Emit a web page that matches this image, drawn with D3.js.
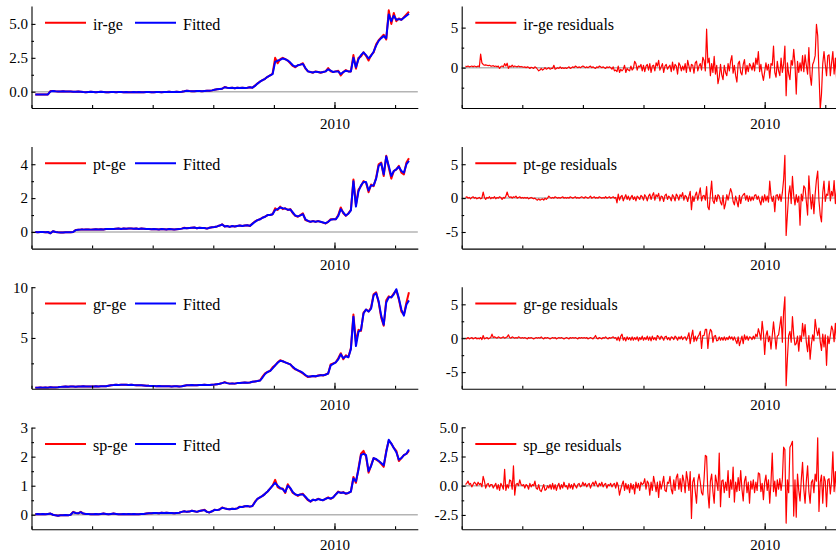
<!DOCTYPE html>
<html>
<head>
<meta charset="utf-8">
<script src="https://cdn.jsdelivr.net/npm/d3@7"></script>
<style>
  body { margin: 0; background: #fff; }
  svg { display: block; }
</style>
</head>
<body>
<svg id="chart" width="836" height="554"></svg>
<script>
// levels are monthly from Feb 2000, residuals every half month from 2000.125
const levelStart = 2000 + 1.5 / 12, levelStep = 1 / 12
const residStart = 2000.125, residStep = 1 / 24
const xDomain = [2000, 2012.75]
const xTicks = [2000, 2002, 2004, 2006, 2008, 2010, 2012]
const xLabels = [2010]

//======== levels ========//
const irGe = [
  -0.2,-0.2,-0.2,-0.2,-0.2,-0.2,0.05,0.05,0.03,0.02,0.02,
  0.03,0.02,0.02,0.01,0.0,0.0,0.01,0.0,-0.02,-0.03,-0.02,-0.01,
  -0.02,-0.03,-0.02,-0.01,-0.02,-0.03,-0.03,-0.02,-0.02,-0.03,-0.02,-0.02,
  -0.03,-0.02,-0.03,-0.03,-0.02,-0.03,-0.02,-0.03,-0.03,-0.02,-0.02,-0.03,
  -0.03,-0.02,-0.02,-0.03,-0.02,-0.02,-0.01,-0.02,-0.02,-0.01,-0.02,0.0,
  0.03,0.08,0.05,0.04,0.03,0.05,0.06,0.04,0.06,0.08,0.07,0.1,
  0.15,0.18,0.2,0.22,0.35,0.3,0.28,0.3,0.26,0.3,0.28,0.3,
  0.28,0.3,0.33,0.3,0.45,0.6,0.75,0.85,0.95,1.1,1.2,1.35,
  2.5,2.1,2.4,2.5,2.4,2.3,2.1,1.9,1.8,1.95,2.0,2.1,
  1.7,1.5,1.45,1.4,1.5,1.45,1.4,1.45,1.5,1.75,1.5,1.45,
  1.5,1.55,1.2,1.45,1.6,1.5,1.5,2.7,1.7,2.5,2.6,2.9,
  2.65,2.3,2.7,2.9,3.5,3.8,4.0,4.2,3.85,6.0,5.0,5.8,
  5.2,5.4,5.3,5.5,5.7,5.9
]
const irGeFit = [
  -0.2,-0.2,-0.2,-0.2,-0.2,-0.2,0.02,0.05,0.03,0.02,0.02,
  0.03,0.02,0.02,0.01,0.0,0.0,0.01,0.0,-0.02,-0.03,-0.02,-0.01,
  -0.02,-0.03,-0.02,-0.01,-0.02,-0.03,-0.03,-0.02,-0.02,-0.03,-0.02,-0.02,
  -0.03,-0.02,-0.03,-0.03,-0.02,-0.03,-0.02,-0.03,-0.03,-0.02,-0.02,-0.03,
  -0.03,-0.02,-0.02,-0.03,-0.02,-0.02,-0.01,-0.02,-0.02,-0.01,-0.02,0.0,
  0.03,0.07,0.05,0.04,0.03,0.05,0.06,0.04,0.06,0.08,0.07,0.1,
  0.14,0.18,0.2,0.22,0.33,0.3,0.28,0.3,0.26,0.3,0.28,0.3,
  0.28,0.3,0.33,0.3,0.43,0.6,0.74,0.85,0.95,1.1,1.2,1.3,
  2.2,2.3,2.35,2.45,2.4,2.3,2.15,1.95,1.85,1.95,2.0,2.05,
  1.75,1.5,1.45,1.42,1.48,1.45,1.42,1.45,1.5,1.65,1.55,1.45,
  1.5,1.5,1.3,1.45,1.55,1.5,1.5,2.5,1.8,2.4,2.7,2.9,
  2.7,2.45,2.65,2.95,3.4,3.75,3.95,4.1,3.95,5.7,5.2,5.6,
  5.3,5.35,5.3,5.45,5.6,5.75
]
const ptGe = [
  0.0,-0.02,0.0,0.0,-0.01,0.0,-0.08,0.05,0.0,-0.02,-0.03,
  -0.03,-0.02,-0.01,-0.02,0.0,0.12,0.13,0.14,0.14,0.15,0.15,0.14,
  0.15,0.16,0.15,0.16,0.15,0.17,0.18,0.17,0.18,0.19,0.2,0.18,
  0.2,0.19,0.21,0.2,0.19,0.2,0.18,0.2,0.19,0.18,0.17,0.16,
  0.17,0.16,0.15,0.17,0.16,0.15,0.17,0.16,0.15,0.16,0.17,0.2,
  0.25,0.22,0.24,0.25,0.26,0.22,0.25,0.23,0.24,0.2,0.25,0.28,
  0.3,0.33,0.38,0.45,0.32,0.35,0.3,0.35,0.33,0.36,0.38,0.35,
  0.38,0.4,0.35,0.5,0.62,0.7,0.75,0.85,0.9,1.0,1.0,1.05,
  1.4,1.3,1.5,1.35,1.4,1.3,1.35,1.1,0.95,0.9,1.0,1.1,
  0.7,0.65,0.6,0.65,0.6,0.65,0.6,0.55,0.5,0.6,0.75,0.75,
  0.75,1.0,1.45,1.1,0.95,1.1,1.3,3.1,1.6,2.5,2.7,3.0,
  2.9,2.35,2.8,2.7,3.2,4.0,4.1,3.3,4.5,3.8,3.15,3.6,
  3.7,3.9,3.5,3.4,4.1,4.35
]
const ptGeFit = [
  0.0,-0.02,0.0,0.0,-0.01,0.0,-0.08,0.05,0.0,-0.02,-0.03,
  -0.03,-0.02,-0.01,-0.02,0.0,0.11,0.13,0.14,0.14,0.15,0.15,0.14,
  0.15,0.16,0.15,0.16,0.15,0.17,0.18,0.17,0.18,0.19,0.2,0.18,
  0.2,0.19,0.21,0.2,0.19,0.2,0.18,0.2,0.19,0.18,0.17,0.16,
  0.17,0.16,0.15,0.17,0.16,0.15,0.17,0.16,0.15,0.16,0.17,0.2,
  0.24,0.22,0.24,0.25,0.26,0.22,0.25,0.23,0.24,0.2,0.25,0.28,
  0.3,0.33,0.38,0.44,0.33,0.35,0.3,0.35,0.33,0.36,0.38,0.35,
  0.38,0.4,0.36,0.48,0.6,0.7,0.75,0.84,0.9,1.0,1.0,1.05,
  1.3,1.35,1.45,1.4,1.38,1.32,1.33,1.15,0.97,0.92,0.98,1.05,
  0.75,0.66,0.6,0.64,0.6,0.64,0.6,0.56,0.52,0.6,0.72,0.75,
  0.75,0.95,1.35,1.15,0.97,1.08,1.28,3.0,1.5,2.4,2.75,2.95,
  2.95,2.45,2.75,2.75,3.15,3.9,4.05,3.4,4.45,3.9,3.3,3.6,
  3.7,3.85,3.6,3.5,4.0,4.2
]
const grGe = [
  0.1,0.1,0.12,0.1,0.12,0.1,0.15,0.12,0.13,0.15,0.18,
  0.2,0.22,0.2,0.21,0.22,0.2,0.22,0.21,0.23,0.22,0.21,0.22,
  0.22,0.23,0.22,0.24,0.23,0.25,0.3,0.35,0.36,0.38,0.37,0.39,
  0.38,0.39,0.37,0.38,0.36,0.35,0.34,0.33,0.32,0.3,0.28,0.27,
  0.26,0.25,0.26,0.24,0.25,0.23,0.24,0.22,0.23,0.24,0.22,0.25,
  0.3,0.35,0.33,0.36,0.35,0.34,0.37,0.36,0.38,0.37,0.36,0.4,
  0.42,0.45,0.48,0.55,0.65,0.55,0.5,0.52,0.5,0.55,0.56,0.58,
  0.6,0.58,0.62,0.68,0.72,0.75,0.8,1.2,1.5,1.65,1.75,2.1,
  2.3,2.6,2.8,2.7,2.6,2.5,2.4,2.1,1.9,1.8,1.65,1.5,
  1.3,1.15,1.2,1.25,1.2,1.3,1.35,1.3,1.4,1.5,2.4,2.5,
  2.6,3.0,3.5,2.9,3.3,3.1,4.0,7.3,4.6,5.8,5.7,7.5,
  7.8,7.6,8.0,9.3,9.5,8.5,7.0,6.2,8.7,9.1,9.0,9.4,
  9.7,8.8,7.6,7.3,8.5,9.5
]
const grGeFit = [
  0.1,0.1,0.12,0.1,0.12,0.1,0.15,0.12,0.13,0.15,0.18,
  0.2,0.22,0.2,0.21,0.22,0.2,0.22,0.21,0.23,0.22,0.21,0.22,
  0.22,0.23,0.22,0.24,0.23,0.25,0.3,0.35,0.36,0.38,0.37,0.39,
  0.38,0.39,0.37,0.38,0.36,0.35,0.34,0.33,0.32,0.3,0.28,0.27,
  0.26,0.25,0.26,0.24,0.25,0.23,0.24,0.22,0.23,0.24,0.22,0.25,
  0.3,0.35,0.33,0.36,0.35,0.34,0.37,0.36,0.38,0.37,0.36,0.4,
  0.42,0.45,0.48,0.55,0.62,0.55,0.5,0.52,0.5,0.55,0.56,0.58,
  0.6,0.58,0.62,0.68,0.72,0.75,0.8,1.1,1.45,1.65,1.75,2.0,
  2.3,2.55,2.75,2.7,2.6,2.5,2.4,2.15,1.95,1.8,1.7,1.55,
  1.35,1.2,1.2,1.25,1.22,1.28,1.33,1.32,1.38,1.5,2.3,2.45,
  2.6,2.9,3.4,3.0,3.2,3.1,3.9,7.1,4.2,5.6,5.8,7.4,
  7.8,7.6,7.9,9.2,9.4,8.6,7.2,6.3,8.5,9.0,9.0,9.3,
  9.8,8.9,7.8,7.2,8.3,8.7
]
const spGe = [
  0.02,0.03,0.02,0.03,0.02,0.03,0.04,0.0,-0.02,-0.03,-0.02,
  -0.02,-0.01,-0.02,0.0,0.1,0.06,0.05,0.1,0.04,0.03,0.03,0.02,
  0.02,0.03,0.02,0.03,0.04,0.03,0.02,0.03,0.04,0.03,0.02,0.02,
  0.03,0.02,0.03,0.02,0.03,0.02,0.02,0.03,0.03,0.04,0.05,0.05,
  0.06,0.06,0.05,0.07,0.06,0.07,0.06,0.06,0.05,0.06,0.07,0.1,
  0.12,0.1,0.11,0.14,0.12,0.1,0.13,0.15,0.17,0.1,0.08,0.12,
  0.17,0.16,0.18,0.25,0.22,0.2,0.19,0.21,0.2,0.22,0.28,0.27,
  0.29,0.3,0.28,0.3,0.45,0.55,0.6,0.65,0.72,0.8,0.9,1.0,
  1.2,0.95,0.9,0.9,0.75,1.05,0.9,0.75,0.7,0.65,0.7,0.72,
  0.6,0.5,0.45,0.52,0.5,0.55,0.52,0.5,0.55,0.6,0.55,0.6,
  0.7,0.8,0.75,0.78,0.72,0.75,0.8,1.3,1.1,1.6,2.1,2.2,
  2.0,1.45,1.7,1.95,1.9,1.85,1.75,1.65,2.2,2.55,2.45,2.3,
  2.2,1.85,1.95,2.05,2.1,2.2
]
const spGeFit = [
  0.02,0.03,0.02,0.03,0.02,0.03,0.04,0.0,-0.02,-0.03,-0.02,
  -0.02,-0.01,-0.02,0.0,0.09,0.06,0.05,0.09,0.04,0.03,0.03,0.02,
  0.02,0.03,0.02,0.03,0.04,0.03,0.02,0.03,0.04,0.03,0.02,0.02,
  0.03,0.02,0.03,0.02,0.03,0.02,0.02,0.03,0.03,0.04,0.05,0.05,
  0.06,0.06,0.05,0.07,0.06,0.07,0.06,0.06,0.05,0.06,0.07,0.1,
  0.12,0.1,0.11,0.14,0.12,0.1,0.13,0.15,0.16,0.1,0.08,0.12,
  0.17,0.16,0.18,0.24,0.22,0.2,0.19,0.21,0.2,0.22,0.27,0.27,
  0.29,0.3,0.28,0.3,0.43,0.55,0.6,0.65,0.72,0.8,0.9,1.0,
  1.1,1.0,0.92,0.88,0.78,1.0,0.92,0.78,0.7,0.67,0.7,0.7,
  0.62,0.52,0.46,0.52,0.5,0.54,0.52,0.5,0.55,0.58,0.56,0.6,
  0.7,0.78,0.76,0.77,0.73,0.75,0.8,1.25,1.15,1.55,2.05,2.1,
  2.05,1.5,1.68,1.95,1.92,1.85,1.78,1.7,2.15,2.58,2.45,2.3,
  2.15,1.9,1.95,2.05,2.1,2.25
]

//======== residuals ========//
const irGeRes = [
  0.2,0.1,0.2,0.1,0.15,0.2,0.1,0.2,0.15,0.1,0.2,0.1,1.7,0.6,0.4,0.3,0.35,0.3,0.25,0.3,0.2,
  0.2,0.25,0.15,0.2,0.1,0.2,-0.1,0.15,0.2,0.1,0.5,0.2,0.55,-0.1,0.2,0.1,0.3,0.1,0.2,0.15,0.1,0.2,0.1,0.15,
  0.1,0.05,0.1,0.0,0.1,0.05,-0.1,0.05,0.0,-0.1,0.1,0.0,-0.2,-0.4,-0.3,-0.1,-0.3,-0.2,0.0,-0.2,-0.1,0.0,-0.2,-0.1,
  -0.1,0.3,-0.2,-0.1,0.0,-0.1,0.1,-0.1,0.0,-0.1,0.0,-0.1,0.0,0.1,-0.1,0.0,0.1,0.0,0.2,0.1,0.0,0.1,0.0,0.1,
  0.2,0.1,0.0,0.1,0.0,0.1,0.2,0.0,0.1,0.0,-0.1,0.1,0.0,0.2,0.1,0.0,0.1,0.0,-0.1,0.1,0.0,0.1,0.0,-0.2,
  0.1,-0.4,-0.3,-0.5,0.2,-0.6,-0.2,-0.4,-0.2,0.3,-0.6,-0.1,-0.3,-0.4,0.2,-0.3,-0.1,0.8,0.5,-0.3,0.2,0.1,0.4,-0.4,
  0.3,-0.5,0.2,0.4,-0.3,0.5,-0.6,0.2,0.3,-0.4,0.6,0.2,0.9,-0.3,0.1,0.5,-0.6,0.2,0.4,-0.2,0.1,0.3,-0.5,0.7,
  -0.3,0.4,0.2,-0.8,0.6,0.3,-0.4,0.2,-0.3,0.5,-0.6,0.9,0.2,-0.5,0.4,0.3,-0.7,0.6,0.8,-0.4,0.2,0.5,-0.3,1.3,
  0.9,-0.4,4.8,0.6,1.2,-1.0,0.5,-0.6,1.4,-0.8,0.3,-2.0,-1.2,0.4,-0.9,-1.5,0.3,-0.6,-1.0,0.5,-0.4,0.8,1.5,-0.7,
  0.3,-1.0,-1.8,0.5,0.8,-0.6,-0.9,0.4,1.0,-0.8,0.3,-0.5,0.5,0.2,-0.3,0.6,-0.4,1.2,0.4,2.0,-0.5,0.4,-0.8,-1.6,
  -0.5,0.6,-0.3,0.4,-1.3,0.5,0.3,2.7,-0.6,-1.2,0.8,-0.4,-1.0,1.2,-0.6,0.5,2.7,-3.5,0.6,-0.8,-1.5,0.9,0.3,2.3,
  0.5,-3.3,0.8,-0.6,0.6,-0.4,1.5,-0.5,1.6,0.3,-0.8,2.5,-1.0,-2.2,0.4,0.8,1.5,5.4,4.0,-0.6,-5.2,-3.3,0.5,2.0,
  0.4,-1.0,1.5,1.6,-1.0,0.6,2.0,-0.8,1.2,-1.5,0.8
]
const ptGeRes = [
  0.1,0.2,0.0,0.1,-0.1,0.1,0.2,0.0,0.1,-0.1,0.0,0.1,-0.1,0.0,0.9,0.1,-0.2,0.1,0.0,0.2,-0.1,
  0.1,0.0,0.2,-0.1,0.1,0.0,0.2,0.1,-0.2,0.1,0.0,0.3,0.9,0.3,0.1,0.2,0.0,0.2,0.1,0.3,0.0,0.1,0.2,0.0,
  0.1,0.0,0.1,0.0,0.1,-0.1,0.0,0.1,0.0,-0.1,0.0,-0.2,-0.3,-0.1,-0.3,-0.2,-0.1,-0.3,0.0,-0.2,0.0,0.3,0.1,0.0,
  0.1,0.0,0.2,0.1,0.0,0.1,0.0,0.1,0.2,0.0,0.1,0.0,0.1,0.0,0.2,0.1,0.0,0.1,0.2,0.0,0.1,0.0,0.1,0.2,
  0.1,0.0,0.2,0.1,0.0,0.1,0.3,0.0,0.1,0.2,0.0,0.1,0.0,0.2,0.1,0.0,0.1,0.0,0.2,0.0,0.1,0.2,0.0,0.1,
  0.2,0.0,0.1,-0.7,0.6,-0.3,0.2,0.4,-0.4,0.1,0.5,-0.2,0.3,-0.3,0.1,0.4,-0.2,0.2,-0.4,0.3,0.1,-0.2,0.4,0.2,
  -0.3,0.5,0.2,-0.4,0.3,0.6,-0.2,0.4,0.8,-0.3,0.5,0.2,0.7,-0.4,0.3,0.2,-0.5,0.4,0.6,-0.2,0.3,0.1,-0.4,0.5,
  0.2,-0.4,0.6,0.3,-0.3,0.5,0.2,0.8,-0.3,0.4,0.2,-0.5,0.3,1.0,-1.7,0.3,-0.5,0.4,0.9,-0.3,0.6,1.5,-0.4,0.3,
  0.4,-0.3,1.7,-1.3,-1.7,0.6,2.5,-0.4,-0.8,0.4,-0.5,0.5,0.3,-0.6,-1.0,0.4,-1.6,-0.8,0.5,-0.3,0.6,1.4,0.8,-0.5,
  -1.0,0.3,-0.5,-1.3,0.4,-0.8,0.2,0.5,0.7,-0.3,0.4,-0.5,0.3,-0.4,0.2,-0.3,0.4,0.5,-0.2,0.3,-0.4,-1.0,0.3,-0.6,
  0.5,-0.4,0.3,-0.6,2.5,0.4,-0.5,0.3,-2.0,0.4,0.5,-0.3,0.6,-0.5,0.8,2.7,6.3,-5.5,-2.5,0.6,1.8,-0.8,3.2,0.4,
  -1.0,0.5,-0.6,0.3,-4.0,0.6,-0.4,1.8,1.5,-0.5,-2.5,3.3,0.4,-1.6,0.5,-2.3,0.6,2.7,4.0,-0.4,-2.5,-3.5,0.8,2.5,
  -0.5,0.6,0.4,2.5,-0.4,1.0,0.3,2.6,-0.8,1.5,-0.6
]
const grGeRes = [
  0.0,-0.1,0.1,-0.1,0.0,0.1,-0.1,0.0,0.1,-0.1,0.0,-0.1,0.1,-0.2,0.4,-0.1,0.0,0.1,-0.1,0.0,0.1,
  0.6,0.1,0.2,0.1,0.0,0.2,0.1,0.0,0.1,0.2,0.0,0.1,0.2,0.5,0.1,0.0,0.2,0.1,0.0,0.1,0.0,0.2,0.1,0.0,
  0.1,0.0,0.1,0.0,-0.1,0.1,0.0,0.1,0.0,-0.1,0.0,0.1,0.0,0.1,0.0,0.2,0.0,-0.1,0.1,0.0,0.1,0.0,-0.1,0.0,
  0.1,0.0,0.1,-0.1,0.0,0.1,0.0,0.1,0.0,-0.1,0.0,0.1,0.0,-0.1,0.1,0.0,0.1,0.0,0.1,0.0,-0.1,0.1,0.0,0.1,
  0.0,0.1,0.0,0.1,-0.1,0.0,0.1,0.0,-0.1,0.1,0.4,0.0,-0.1,0.1,0.0,-0.1,0.1,0.0,0.2,0.0,-0.1,0.1,0.0,0.1,
  0.2,0.0,0.1,-0.3,0.2,-0.4,0.3,0.6,-0.3,0.1,-0.4,0.2,-0.2,0.1,-0.3,0.2,-0.3,0.1,-0.2,0.2,-0.4,0.1,-0.2,0.3,
  -0.3,0.1,-0.2,0.3,-0.3,0.2,-0.4,0.3,-0.2,0.1,-0.3,0.4,0.2,-0.2,0.3,0.1,-0.3,0.2,0.3,-0.2,0.1,-0.3,0.2,0.1,
  -0.2,0.3,0.1,-0.3,0.2,-0.1,0.3,-0.2,0.1,0.2,-0.3,0.2,0.8,-0.8,0.3,1.2,-0.5,0.3,-0.4,0.2,0.5,1.0,-1.5,0.4,
  0.4,1.3,1.3,-1.5,0.5,1.3,1.0,-0.6,0.3,0.4,-0.4,-0.3,0.2,-0.3,0.1,-0.3,0.2,-0.3,0.1,-0.2,0.3,-0.1,0.2,-0.3,
  0.2,-0.3,-0.8,0.2,-1.1,-0.4,0.3,-0.8,0.5,-0.2,0.3,-0.3,0.2,0.1,-0.2,0.3,-0.1,0.6,0.2,1.4,0.7,-0.3,2.5,0.8,
  -2.4,0.4,1.1,-0.5,0.3,-1.6,0.4,2.4,0.5,-1.6,0.3,0.5,1.8,3.2,-0.6,3.9,6.1,-7.0,-3.0,0.4,1.0,-0.6,3.2,0.5,
  -1.0,-0.8,0.3,-1.9,0.4,-0.5,2.2,0.3,2.0,-0.6,-2.0,0.4,-3.1,-0.9,0.5,-0.4,2.8,1.3,0.4,1.5,-0.5,-1.8,0.6,-1.3,
  0.5,-4.0,0.3,-0.8,0.4,1.8,1.2,-0.5,2.2,-0.6,0.8
]
const spGeRes = [
  0.1,0.2,0.4,0.1,0.2,-0.1,0.1,0.3,0.2,0.0,0.3,0.1,0.2,-0.1,0.8,0.4,-0.2,0.1,0.2,-0.1,0.1,
  0.1,-0.2,0.0,0.2,-0.3,0.1,-0.4,0.2,0.0,-0.3,1.4,-0.4,0.1,-0.2,0.5,0.4,-0.3,1.7,-0.8,0.1,0.2,0.0,0.5,0.1,
  0.0,0.1,-0.2,0.1,0.0,-0.3,0.2,-0.1,0.1,0.0,0.4,-0.2,-0.3,0.1,-0.4,-0.5,-0.2,0.1,-0.4,-0.3,0.0,-0.2,0.1,-0.3,
  0.2,-0.3,0.1,-0.4,0.0,0.2,-0.3,0.1,-0.2,0.3,-0.1,0.0,-0.3,0.2,-0.2,0.1,-0.3,0.2,0.0,-0.2,0.1,0.2,-0.1,0.0,
  0.3,0.0,0.2,-0.1,0.1,0.2,-0.2,0.1,0.3,0.0,0.4,0.1,-0.1,0.2,0.0,0.3,-0.1,0.1,0.2,-0.2,0.1,0.0,0.2,-0.1,
  0.1,0.2,-0.2,0.3,0.0,-0.8,-0.3,0.1,0.4,-0.4,0.2,-0.3,0.1,-0.6,0.2,-0.3,0.1,-0.7,0.3,-0.2,0.2,-0.4,0.3,0.1,
  0.2,0.6,-0.3,0.4,0.2,-0.8,0.3,-0.4,0.8,0.2,-0.5,0.3,-1.0,0.4,-0.3,0.2,0.8,-0.4,-0.5,0.3,0.2,0.8,-0.3,-0.7,
  0.5,-0.4,0.7,1.0,-0.3,0.6,-0.5,0.9,0.4,-0.6,1.2,0.5,-0.4,1.2,-2.8,0.3,0.7,-0.5,-1.5,0.4,1.0,0.3,-0.6,-0.8,
  0.6,2.6,2.5,-0.6,-1.9,0.4,1.0,-0.5,-1.5,0.9,0.3,-0.4,2.8,-1.8,0.4,0.5,-0.6,0.3,-0.4,1.3,-1.0,0.5,-0.3,1.6,
  -1.4,0.3,-0.5,0.7,-0.4,1.3,-0.3,-1.3,0.4,0.8,-0.6,0.3,-1.5,0.4,-0.3,0.5,-0.6,0.3,-0.4,1.1,1.0,-0.5,0.2,-1.2,
  0.3,0.9,-0.4,0.5,-1.5,0.3,2.8,-0.5,0.4,-0.9,0.5,-0.3,0.6,-0.4,0.5,3.3,3.1,-3.2,0.5,-0.6,3.3,3.5,3.8,-2.6,
  0.5,-2.7,1.0,-0.4,-1.3,0.5,2.0,-0.3,-1.5,0.4,1.7,-0.5,-1.5,0.3,0.5,-0.6,1.0,0.4,4.1,-2.2,0.3,0.9,-1.5,0.8,
  0.4,-1.8,0.5,0.6,-0.7,0.4,2.9,-0.5,1.2,-0.8,0.6
]

// y axes: domain, labelled ticks, small ticks, decimals of the labels
const rows = [
  { name: 'ir-ge', level: irGe, fit: irGeFit, res: irGeRes, resName: 'ir-ge residuals',
    ly: [-1.2, 6.32], lMajor: [0, 2.5, 5], lMinor: [1.25, 3.75], lDigits: 1,
    ry: [-5.04, 7.7], rMajor: [0, 5], rMinor: [-2.5, 2.5], rDigits: 0 },
  { name: 'pt-ge', level: ptGe, fit: ptGeFit, res: ptGeRes, resName: 'pt-ge residuals',
    ly: [-0.98, 5.04], lMajor: [0, 2, 4], lMinor: [1, 3], lDigits: 0,
    ry: [-7.45, 7.6], rMajor: [-5, 0, 5], rMinor: [-2.5, 2.5], rDigits: 0 },
  { name: 'gr-ge', level: grGe, fit: grGeFit, res: grGeRes, resName: 'gr-ge residuals',
    ly: [0, 10.05], lMajor: [5, 10], lMinor: [2.5, 7.5], lDigits: 0,
    ry: [-7.45, 7.6], rMajor: [-5, 0, 5], rMinor: [-2.5, 2.5], rDigits: 0 },
  { name: 'sp-ge', level: spGe, fit: spGeFit, res: spGeRes, resName: 'sp_ge residuals',
    ly: [-0.5, 3.01], lMajor: [0, 1, 2, 3], lMinor: [0.5, 1.5, 2.5], lDigits: 0,
    ry: [-3.73, 5.0], rMajor: [-2.5, 0, 2.5, 5], rMinor: [-1.25, 1.25, 3.75], rDigits: 1 }
]

const RED = '#ff0000', BLUE = '#0000ff'
const FONT = '"Liberation Serif", "Times New Roman", serif'
const colX = [31.5, 461.7]
const rowTop = [6, 146.6, 286.7, 427.3]
const plotW = 386.3, plotH = 102

const levelTime = i => levelStart + i * levelStep
const residTime = i => residStart + i * residStep

const svg = d3.select('#chart')

function drawPanel(col, row, cfg) {
  const x0 = colX[col], top = rowTop[row]
  const x = d3.scaleLinear().domain(xDomain).range([x0, x0 + plotW])
  const y = d3.scaleLinear().domain(cfg.domain).range([top + plotH, top])
  const g = svg.append('g')

  const clipId = `clip-${col}-${row}`
  g.append('clipPath').attr('id', clipId)
    .append('rect')
    .attr('x', x0).attr('y', top - 1)
    .attr('width', plotW).attr('height', plotH + 1)

  if (cfg.domain[0] < 0) {
    g.append('line')
      .attr('x1', x0).attr('x2', x0 + plotW)
      .attr('y1', y(0)).attr('y2', y(0))
      .attr('stroke', '#b4b4b4').attr('stroke-width', 1.5)
  }

  const plot = g.append('g').attr('clip-path', `url(#${clipId})`)
  cfg.lines.forEach(s => {
    const line = d3.line()
      .x((d, i) => x(s.time(i)))
      .y(d => y(d))
    plot.append('path')
      .datum(s.values)
      .attr('fill', 'none')
      .attr('stroke', s.color)
      .attr('stroke-width', s.width)
      .attr('stroke-linejoin', 'round')
      .attr('d', line)
  })

  // y axis
  g.append('g')
    .attr('transform', `translate(${x0},0)`)
    .call(d3.axisLeft(y).tickValues(cfg.major).tickSize(-4).tickSizeOuter(0)
      .tickPadding(3.5).tickFormat(d => d.toFixed(cfg.digits)))
  g.append('g')
    .attr('transform', `translate(${x0},0)`)
    .call(d3.axisLeft(y).tickValues(cfg.minor).tickSize(-2.5).tickFormat(''))
    .call(a => a.select('.domain').remove())

  // x axis
  g.append('g')
    .attr('transform', `translate(0,${top + plotH})`)
    .call(d3.axisBottom(x).tickValues(xTicks).tickSize(-3).tickSizeOuter(0).tickFormat(''))
  g.append('g')
    .attr('transform', `translate(0,${top + plotH})`)
    .call(d3.axisBottom(x).tickValues(xLabels).tickSize(-6).tickPadding(10.3).tickFormat(d3.format('d')))
    .call(a => a.select('.domain').remove())

  g.selectAll('.tick text')
    .attr('font-family', FONT).attr('font-size', 15).attr('fill', '#000')
  g.selectAll('.domain, .tick line').attr('stroke', '#000').attr('stroke-width', 1.1)

  // legend
  cfg.legend.forEach(item => {
    g.append('line')
      .attr('x1', x0 + item.dx).attr('x2', x0 + item.dx + 41)
      .attr('y1', top + 16.7).attr('y2', top + 16.7)
      .attr('stroke', item.color).attr('stroke-width', 2)
    g.append('text')
      .attr('x', x0 + item.dx + 48).attr('y', top + 23.6)
      .attr('font-family', FONT).attr('font-size', 16)
      .text(item.label)
  })
}

rows.forEach((r, i) => {
  drawPanel(0, i, {
    domain: r.ly, major: r.lMajor, minor: r.lMinor, digits: r.lDigits,
    lines: [
      { values: r.level, time: levelTime, color: RED, width: 2 },
      { values: r.fit, time: levelTime, color: BLUE, width: 2 }
    ],
    legend: [
      { dx: 13.5, color: RED, label: r.name },
      { dx: 103.5, color: BLUE, label: 'Fitted' }
    ]
  })
  drawPanel(1, i, {
    domain: r.ry, major: r.rMajor, minor: r.rMinor, digits: r.rDigits,
    lines: [{ values: r.res, time: residTime, color: RED, width: 1.2 }],
    legend: [{ dx: 13.6, color: RED, label: r.resName }]
  })
})
</script>
</body>
</html>
